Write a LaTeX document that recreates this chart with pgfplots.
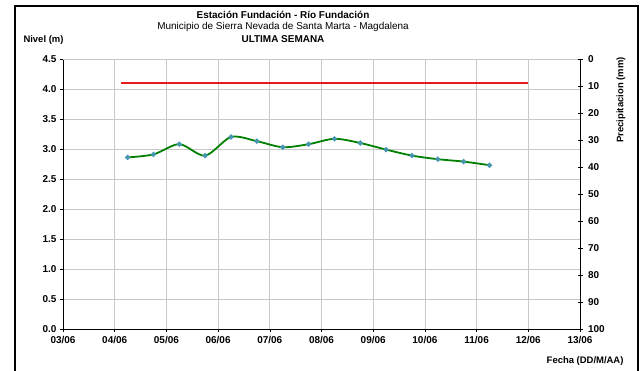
\documentclass[border=0pt]{standalone}
\usepackage{pgfplots}
\pgfplotsset{compat=1.18}
\usepackage{fontspec}
\setmainfont{Liberation Sans}

\definecolor{gridgray}{RGB}{200,200,200}
\definecolor{nivelgreen}{RGB}{0,128,0}
\definecolor{markteal}{RGB}{70,150,175}
\definecolor{alertred}{RGB}{235,25,25}

\begin{document}
\begin{tikzpicture}
\useasboundingbox (0,0) rectangle (640bp,-371bp);
% marco exterior
\draw[line width=2bp] (15bp,-380bp) -- (15bp,-6bp) -- (638bp,-6bp) -- (638bp,-380bp);

\begin{axis}[
    at={(63bp,-329bp)}, anchor=south west,
    scale only axis,
    width=517bp, height=270bp,
    xmin=0, xmax=10, ymin=0, ymax=4.5,
    xtick={0,...,10},
    xticklabels={03/06,04/06,05/06,06/06,07/06,08/06,09/06,10/06,11/06,12/06,13/06},
    ytick={0,0.5,...,4.5},
    yticklabel style={/pgf/number format/.cd,fixed,fixed zerofill,precision=1},
    /pgf/number format/assume math mode=true,
    ticklabel style={font=\fontsize{10}{11}\selectfont\bfseries},
    xticklabel style={yshift=-1bp},
    grid=major,
    major grid style={gridgray, line width=0.8pt},
    axis y line*=left, axis x line*=bottom,
    axis line style={black, line width=0.8pt},
    tick style={black, line width=0.6pt},
    major tick length=3bp,
    tick align=outside,
    clip=false,
]
% nivel de alerta
\addplot[draw=alertred, color=alertred, line width=1.1pt, no markers] coordinates {(1.12,4.1) (9,4.1)};
% nivel del rio
\addplot[nivelgreen, line width=1.8pt, smooth, tension=0.5,
    mark=*, mark size=1.6pt, mark options={fill=markteal, draw=markteal}]
    coordinates {
    (1.25,2.86) (1.75,2.91) (2.25,3.08) (2.75,2.89) (3.25,3.20)
    (3.75,3.13) (4.25,3.03) (4.75,3.08) (5.25,3.17) (5.75,3.10)
    (6.25,2.99) (6.75,2.89) (7.25,2.83) (7.75,2.79) (8.25,2.73)
};
\draw[gridgray, line width=0.8pt] (axis cs:0,4.5) -- (axis cs:10,4.5);
\end{axis}

\begin{axis}[
    at={(63bp,-329bp)}, anchor=south west,
    scale only axis,
    width=517bp, height=270bp,
    xmin=0, xmax=10, ymin=0, ymax=100,
    y dir=reverse,
    axis y line*=right, axis x line=none,
    ytick={0,10,...,100},
    /pgf/number format/assume math mode=true,
    ticklabel style={font=\fontsize{10}{11}\selectfont\bfseries},
    yticklabel style={xshift=2bp},
    axis line style={black, line width=0.8pt},
    tick style={black, line width=0.6pt},
    major tick length=5bp,
    tick align=center,
]
\end{axis}

\node[font=\fontsize{9.5}{10}\selectfont\bfseries, rotate=90] at (621bp,-100bp) {Precipitacion (mm)};
\node[font=\fontsize{10}{11}\selectfont\bfseries] at (283bp,-15bp) {Estación Fundación - Río Fundación};
\node[font=\fontsize{10}{11}\selectfont] at (283bp,-27bp) {Municipio de Sierra Nevada de Santa Marta - Magdalena};
\node[font=\fontsize{10}{11}\selectfont\bfseries] at (283bp,-39bp) {ULTIMA SEMANA};
\node[font=\fontsize{9.5}{10}\selectfont\bfseries, anchor=west] at (20bp,-40bp) {Nivel (m)};
\node[font=\fontsize{9.5}{10}\selectfont\bfseries, anchor=east] at (627bp,-361bp) {Fecha (DD/M/AA)};
\end{tikzpicture}
\end{document}
